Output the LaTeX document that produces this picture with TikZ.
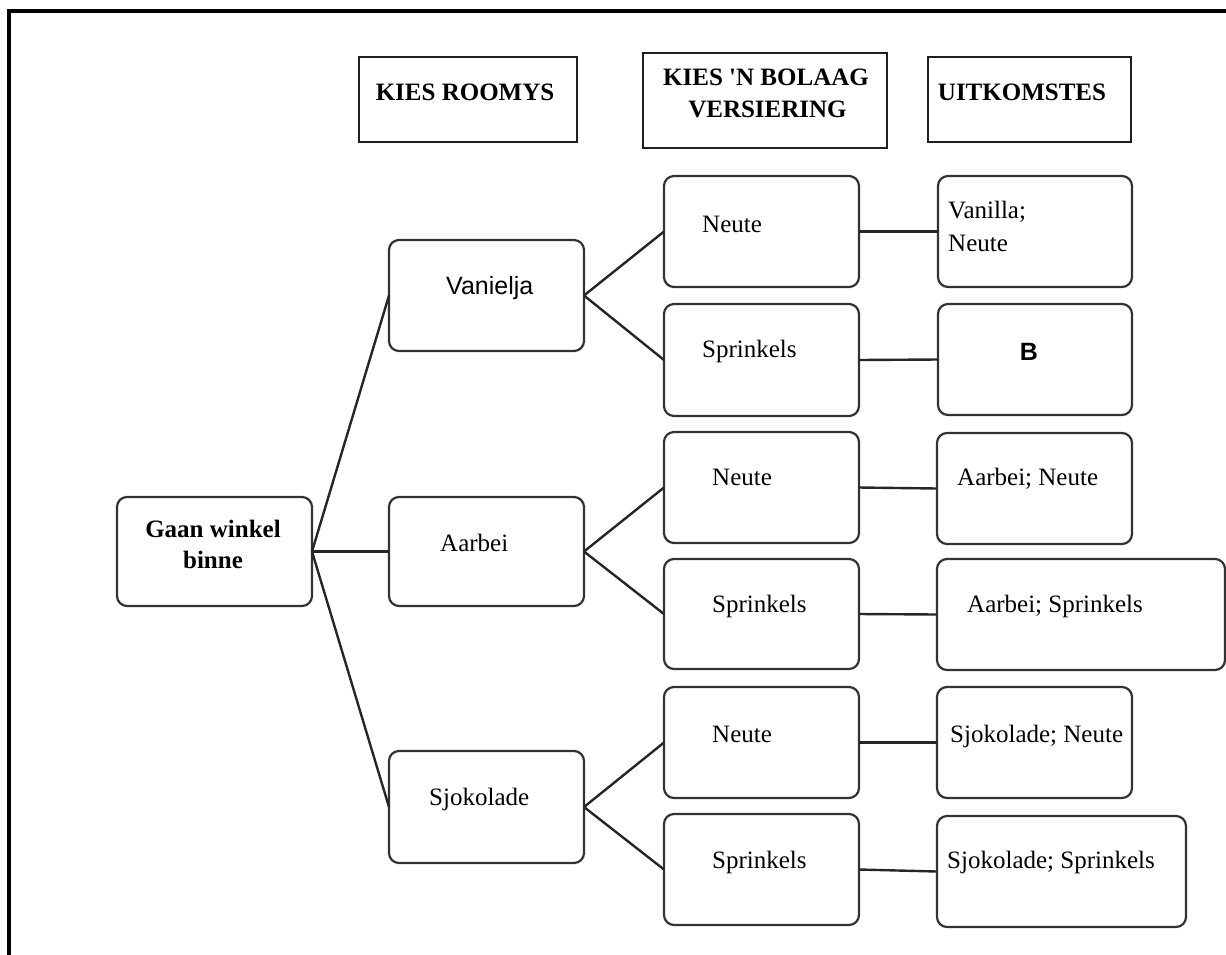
\documentclass[tikz,border=0pt]{standalone}
\usepackage{fontspec}
\setmainfont{Liberation Serif}
\newfontfamily\arialf{Liberation Sans}
\newfontfamily\rawserif{Liberation Serif}[Ligatures=TeXOff]
\begin{document}
\begin{tikzpicture}[x=1pt,y=-1pt,
  rbox/.style={draw=black!80, line width=2.2pt, rounded corners=10pt, minimum width=#1, minimum height=111pt, inner sep=0pt, outer sep=0pt},
  rbox/.default=195pt,
  hbox/.style={draw=black!88, line width=2pt, inner sep=0pt, outer sep=0pt},
  txt/.style={inner sep=0pt, anchor=base west, font=\fontsize{25}{31}\selectfont},
  ctxt/.style={inner sep=0pt, anchor=base, font=\fontsize{25}{31}\selectfont},
  conn/.style={draw=black!85, line width=2.4pt}]
\useasboundingbox (0,0) rectangle (1226,954);
\begin{scope}
\clip (0,0) rectangle (1226,954);
\draw[line width=4pt] (9.3,990) -- (9.3,11.3) -- (1260,11.3);
\end{scope}

% header boxes
\node[hbox, minimum width=218pt, minimum height=85pt] (h1) at (468,99.5) {};
\node[hbox, minimum width=244pt, minimum height=95pt] (h2) at (765,100.5) {};
\node[hbox, minimum width=203pt, minimum height=85pt] (h3) at (1029.5,99.5) {};
\node[ctxt, font=\fontsize{25}{31}\selectfont\bfseries] (t h1) at (465,100) {KIES ROOMYS};
\node[ctxt, font=\fontsize{25}{31}\selectfont\rawserif\bfseries] (t h2a) at (766,85) {KIES 'N BOLAAG};
\node[ctxt, font=\fontsize{25}{31}\selectfont\bfseries] (t h2b) at (767.5,117) {VERSIERING};
\node[ctxt, font=\fontsize{25}{31}\selectfont\bfseries] (t h3) at (1022,100) {UITKOMSTES};

% tree boxes
\node[rbox, minimum height=109pt] (start) at (214.5,551.5) {};
\node[rbox] (van) at (486.5,295.5) {};
\node[rbox, minimum height=109pt] (aar) at (486.5,551.5) {};
\node[rbox, minimum height=112pt] (sjo) at (486.5,807) {};

\node[rbox] (n1) at (761.5,231.5) {};
\node[rbox, minimum height=112pt] (s1) at (761.5,360) {};
\node[rbox] (n2) at (761.5,487.5) {};
\node[rbox, minimum height=110pt] (s2) at (761.5,614) {};
\node[rbox] (n3) at (761.5,742.5) {};
\node[rbox] (s3) at (761.5,869.5) {};

\node[rbox=194pt] (o1) at (1035,231.5) {};
\node[rbox=194pt] (o2) at (1035,359.5) {};
\node[rbox=195pt] (o3) at (1034.5,488.5) {};
\node[rbox=288pt] (o4) at (1081,614.5) {};
\node[rbox=195pt] (o5) at (1034.5,742.5) {};
\node[rbox=249pt] (o6) at (1061.5,871.5) {};

% texts
\node[ctxt, font=\fontsize{25}{31}\selectfont\bfseries] (t start a) at (213,537) {Gaan winkel};
\node[ctxt, font=\fontsize{25}{31}\selectfont\bfseries] (t start b) at (213,568) {binne};
\node[txt, font=\fontsize{25}{31}\selectfont\arialf] (t van) at (446,294) {Vanielja};
\node[txt] (t aar) at (440,551) {Aarbei};
\node[txt] (t sjo) at (429,805) {Sjokolade};

\node[txt] (t n1) at (702,232) {Neute};
\node[txt] (t s1) at (702,357) {Sprinkels};
\node[txt] (t n2) at (712,485) {Neute};
\node[txt] (t s2) at (712,612) {Sprinkels};
\node[txt] (t n3) at (712,742) {Neute};
\node[txt] (t s3) at (712,868) {Sprinkels};

\node[txt] (t o1a) at (948,218) {Vanilla;};
\node[txt] (t o1b) at (948,251) {Neute};
\node[ctxt, font=\fontsize{25}{31}\selectfont\arialf\bfseries] (t o2) at (1029,360) {B};
\node[txt] (t o3) at (957,485) {Aarbei; Neute};
\node[txt] (t o4) at (967,612) {Aarbei; Sprinkels};
\node[txt] (t o5) at (950,742) {Sjokolade; Neute};
\node[txt] (t o6) at (947,868) {Sjokolade; Sprinkels};

% connectors
\draw[conn] (start.east) -- (van.west);
\draw[conn] (start.east) -- (aar.west);
\draw[conn] (start.east) -- (sjo.west);
\draw[conn] (van.east) -- (n1.west);
\draw[conn] (van.east) -- (s1.west);
\draw[conn] (aar.east) -- (n2.west);
\draw[conn] (aar.east) -- (s2.west);
\draw[conn] (sjo.east) -- (n3.west);
\draw[conn] (sjo.east) -- (s3.west);
\draw[conn] (n1.east) -- (o1.west);
\draw[conn] (s1.east) -- (o2.west);
\draw[conn] (n2.east) -- (o3.west);
\draw[conn] (s2.east) -- (o4.west);
\draw[conn] (n3.east) -- (o5.west);
\draw[conn] (s3.east) -- (o6.west);
\end{tikzpicture}
\end{document}
